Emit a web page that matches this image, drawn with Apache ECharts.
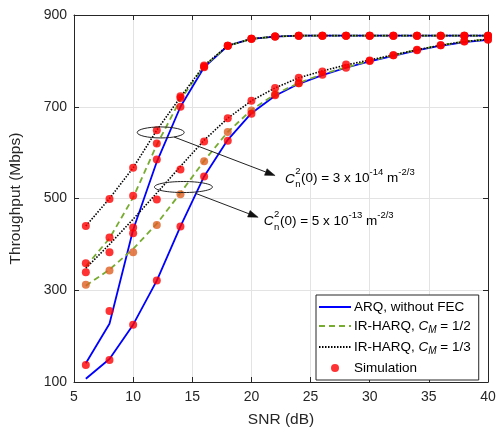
<!DOCTYPE html>
<html>
<head>
<meta charset="utf-8">
<script src="https://cdn.jsdelivr.net/npm/echarts@6/dist/echarts.min.js"></script>
<style>
  html, body { margin: 0; padding: 0; background: #fff; }
  #chart { width: 500px; height: 433px; }
</style>
</head>
<body>
<div id="chart"></div>
<script>
// SNR grid (dB) shared by every curve
const snr = [6, 8, 10, 12, 14, 16, 18, 20, 22, 24, 26, 28, 30, 32, 34, 36, 38, 40];

// Analytical throughput (Mbps), weak turbulence Cn2(0) = 3e-14
const arqWeak   = [141, 227, 432, 580, 700, 786, 833, 848, 853, 855, 855, 855, 855, 855, 855, 855, 855, 855];
const halfWeak  = [352, 413, 502, 617, 716, 788, 833, 848, 853, 855, 855, 855, 855, 855, 855, 855, 855, 855];
const thirdWeak = [440, 500, 567, 649, 721, 790, 833, 848, 853, 855, 855, 855, 855, 855, 855, 855, 855, 855];

// Analytical throughput (Mbps), strong turbulence Cn2(0) = 5e-13
const arqStrong   = [107, 150, 225, 321, 439, 548, 628, 686, 724, 750, 769, 785, 799, 811, 823, 833, 841, 846];
const halfStrong  = [310, 345, 390, 445, 512, 582, 645, 693, 727, 752, 771, 786, 800, 812, 824, 834, 842, 847];
const thirdStrong = [348, 400, 455, 512, 570, 627, 675, 713, 741, 763, 778, 791, 802, 813, 824, 834, 842, 847];

// Simulated throughput (Mbps); null where no run was plotted
const simArqWeak     = [137, 255, 424, 585, 700, 786, 833, 848, 853, 855, 855, 855, 855, 855, 855, 855, 855, 855];
const simHalfWeak    = [359, 415, 506, 620, 719, 788, 833, 848, 853, 855, 855, 855, 855, 855, 855, 855, 855, 855];
const simThirdWeak   = [440, 499, 567, 649, 723, 790, 833, 848, 853, 855, 855, 855, 855, 855, 855, 855, 855, 855];
const simArqStrong   = [null, 148, 225, 321, 439, 548, 626, 685, 725, 751, 770, 785, 800, 812, 823, 834, 842, 846];
const simHalfStrong  = [312, 343, 383, 442, 509, 581, 645, 692, 727, 751, null, null, null, null, null, null, null, null];
const simThirdStrong = [339, 383, 437, 498, 563, 624, 675, 713, 741, 763, 777, 792, 801, 812, 824, 834, 843, 847];

// Axis ticks
const xTicks = { min: 5, max: 40, interval: 5 };
const yTicks = { min: 100, max: 900, interval: 200 };

// Annotation anchors in data coordinates [SNR, Mbps]
const weakRing    = [12.33, 644];
const weakArrow   = [[13.46, 634], [22.0, 550]];
const weakText    = [22.83, 543];
const strongRing  = [14.25, 525];
const strongArrow = [[15.3, 511], [20.57, 459]];
const strongText  = [21.05, 450];

const FONT = '"Liberation Sans", Arial, Helvetica, sans-serif';
const pairs = arr => snr.map((x, i) => [x, arr[i]]).filter(p => p[1] != null);

const NAME_ARQ = 'ARQ, without FEC';
const NAME_HALF = 'IR-HARQ, C_M = 1/2';
const NAME_THIRD = 'IR-HARQ, C_M = 1/3';
const NAME_SIM = 'Simulation';

const arqStyle = { color: '#0000ff', width: 1.8, type: 'solid' };
const halfStyle = { color: '#77ac30', width: 1.8, type: [6, 4] };
const thirdStyle = { color: '#000000', width: 1.6, type: [1.5, 1.5] };

function curve(name, data, style) {
  return {
    type: 'line', name, data: pairs(data), symbol: 'none', showSymbol: false, z: 3,
    lineStyle: style, itemStyle: { color: style.color }, silent: true
  };
}

const redSims = [].concat(
  pairs(simArqWeak), pairs(simHalfWeak), pairs(simThirdWeak),
  pairs(simArqStrong), pairs(simThirdStrong)
);

const chart = echarts.init(document.getElementById('chart'));

const axisCommon = {
  axisLine: { show: true, lineStyle: { color: '#262626', width: 1 } },
  axisTick: { show: true, inside: true, length: 5, lineStyle: { color: '#262626' } },
};

const lineLegendItem = name => ({ name, itemStyle: { opacity: 0 } });

chart.setOption({
  animation: false,
  backgroundColor: '#fff',
  grid: { left: 70, right: 12, top: 15, bottom: 48, containLabel: false },
  xAxis: [
    Object.assign({
      type: 'value', position: 'bottom', min: xTicks.min, max: xTicks.max, interval: xTicks.interval,
      name: 'SNR (dB)', nameLocation: 'middle', nameGap: 30,
      nameTextStyle: { fontFamily: FONT, fontSize: 15.5, color: '#262626' },
      axisLabel: { fontFamily: FONT, fontSize: 14, color: '#262626', margin: 8 },
      splitLine: { show: true, lineStyle: { color: '#e3e3e3', width: 1 } }
    }, axisCommon),
    Object.assign({
      type: 'value', position: 'top', min: xTicks.min, max: xTicks.max, interval: xTicks.interval,
      axisLabel: { show: false }, splitLine: { show: false }
    }, axisCommon)
  ],
  yAxis: [
    Object.assign({
      type: 'value', position: 'left', min: yTicks.min, max: yTicks.max, interval: yTicks.interval,
      name: 'Throughput (Mbps)', nameLocation: 'middle', nameGap: 50,
      nameTextStyle: { fontFamily: FONT, fontSize: 15.5, color: '#262626' },
      axisLabel: { fontFamily: FONT, fontSize: 14, color: '#262626', margin: 7 },
      splitLine: { show: true, lineStyle: { color: '#e3e3e3', width: 1 } }
    }, axisCommon),
    Object.assign({
      type: 'value', position: 'right', min: yTicks.min, max: yTicks.max, interval: yTicks.interval,
      axisLabel: { show: false }, splitLine: { show: false }
    }, axisCommon)
  ],
  legend: {
    data: [lineLegendItem(NAME_ARQ), lineLegendItem(NAME_HALF), lineLegendItem(NAME_THIRD),
           { name: NAME_SIM }],
    orient: 'vertical', left: 316, top: 295,
    itemWidth: 32, itemHeight: 8, itemGap: 5,
    backgroundColor: '#fff', borderColor: '#262626', borderWidth: 1, borderRadius: 0,
    padding: [5, 8, 5, 2],
    selectedMode: false,
    textStyle: {
      fontFamily: FONT, fontSize: 13.5, color: '#000', padding: [0, 0, 0, -2],
      rich: {
        i: { fontFamily: FONT, fontSize: 13.5, fontStyle: 'italic', color: '#000' },
        s: { fontFamily: FONT, fontSize: 10, fontStyle: 'italic', color: '#000', padding: [8, 0, 0, 0] }
      }
    },
    formatter: name => name.replace('C_M', '{i|C}{s|M}')
  },
  series: [
    curve(NAME_ARQ, arqWeak, arqStyle),
    curve(NAME_ARQ, arqStrong, arqStyle),
    curve(NAME_HALF, halfWeak, halfStyle),
    curve(NAME_HALF, halfStrong, halfStyle),
    curve(NAME_THIRD, thirdWeak, thirdStyle),
    curve(NAME_THIRD, thirdStrong, thirdStyle),
    {
      type: 'scatter', name: 'IR-HARQ 1/2 runs', data: pairs(simHalfStrong),
      symbol: 'circle', symbolSize: 8, z: 4, itemStyle: { color: '#df5f22' }, silent: true
    },
    {
      type: 'scatter', name: NAME_SIM, data: redSims,
      symbol: 'circle', symbolSize: 8, z: 5, itemStyle: { color: '#ff0000' }, silent: true
    }
  ]
});

// Ellipse + arrow + formula annotations
const measureCtx = document.createElement('canvas').getContext('2d');
function textWidth(str, size, italic) {
  measureCtx.font = (italic ? 'italic ' : '') + size + 'px ' + FONT;
  return measureCtx.measureText(str).width;
}
function formulaElements(x, y, coef, expo) {
  const els = [];
  const big = 13.5, small = 9.5;
  const put = (str, px, py, size, italic) => {
    els.push({
      type: 'text', x: px, y: py, silent: true,
      style: { text: str, fontFamily: FONT, fontSize: size, fontStyle: italic ? 'italic' : 'normal',
               fill: '#000', verticalAlign: 'middle', align: 'left' }
    });
    return textWidth(str, size, italic);
  };
  let cx = x;
  cx += put('C', cx, y, big, true) + 0.5;
  const w2 = put('2', cx, y - 7, small, false);
  const wn = put('n', cx, y + 6, small, false);
  cx += Math.max(w2, wn) + 0.5;
  cx += put('(0) = ' + coef + ' x 10', cx, y, big, false);
  cx += put(expo, cx, y - 6, small, false);
  cx += put(' m', cx, y, big, false);
  put('-2/3', cx, y - 6, small, false);
  return els;
}
function arrowElements(p0, p1) {
  const dx = p1[0] - p0[0], dy = p1[1] - p0[1];
  const len = Math.sqrt(dx * dx + dy * dy), ux = dx / len, uy = dy / len;
  const hl = 10, hw = 3.5;
  const bx = p1[0] - ux * hl, by = p1[1] - uy * hl;
  return [
    { type: 'line', silent: true, shape: { x1: p0[0], y1: p0[1], x2: bx, y2: by },
      style: { stroke: '#222', lineWidth: 1 } },
    { type: 'polygon', silent: true,
      shape: { points: [[p1[0], p1[1]], [bx - uy * hw, by + ux * hw], [bx + uy * hw, by - ux * hw]] },
      style: { fill: '#111', stroke: '#111', lineWidth: 0.5 } }
  ];
}
const px = p => chart.convertToPixel({ gridIndex: 0 }, p);
function ring(center, rx, ry) {
  const c = px(center);
  return { type: 'ellipse', silent: true, shape: { cx: c[0], cy: c[1], rx, ry },
           style: { fill: 'none', stroke: '#222', lineWidth: 1 } };
}

const graphics = [].concat(
  [ring(weakRing, 23.5, 5.5), ring(strongRing, 29, 5.5)],
  arrowElements(px(weakArrow[0]), px(weakArrow[1])),
  arrowElements(px(strongArrow[0]), px(strongArrow[1])),
  formulaElements(px(weakText)[0], px(weakText)[1], '3', '-14'),
  formulaElements(px(strongText)[0], px(strongText)[1], '5', '-13')
);
chart.setOption({ graphic: graphics.map(g => Object.assign({ z: 100 }, g)) });
</script>
</body>
</html>
